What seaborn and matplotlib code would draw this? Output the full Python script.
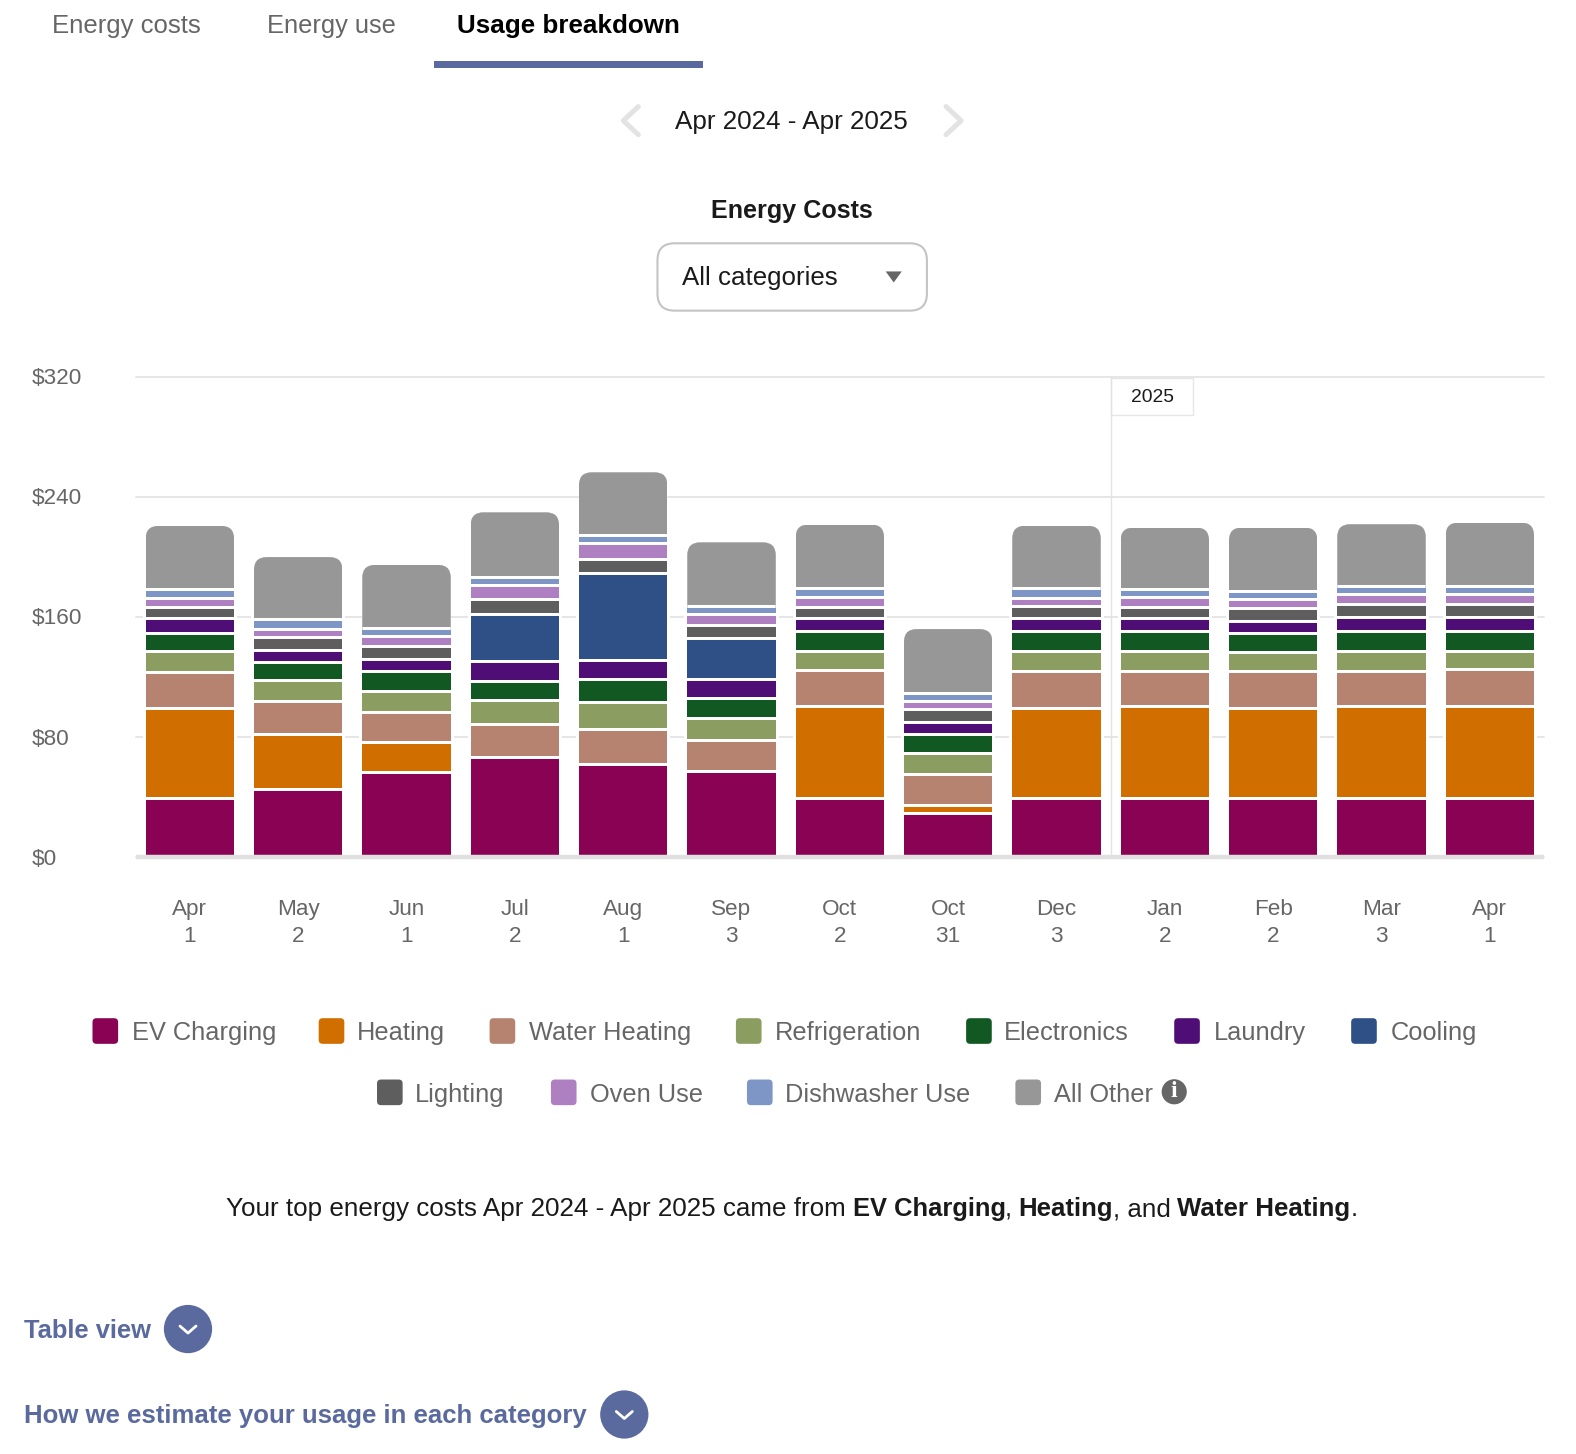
import matplotlib
matplotlib.use("Agg")
import matplotlib.pyplot as plt
import matplotlib.patheffects as pe
from matplotlib.patches import FancyBboxPatch, Circle, Rectangle, Polygon
import numpy as np
import seaborn as sns

W, H = 1576, 1454
VIEW = 0.9947  # page layer coordinates were read from a slightly smaller view

# months on the x axis
months = ["Apr\n1", "May\n2", "Jun\n1", "Jul\n2", "Aug\n1", "Sep\n3", "Oct\n2",
          "Oct\n31", "Dec\n3", "Jan\n2", "Feb\n2", "Mar\n3", "Apr\n1"]

# dollars per segment
ev_charging = [40, 46, 57, 67, 62.5, 58, 40, 30, 40, 40, 40, 40, 40]
heating = [59.6, 36.4, 20.3, 0, 0, 0, 60.7, 5.3, 59.8, 60.9, 59.8, 60.9, 60.9]
water_heating = [24.4, 22.2, 20, 22, 23.3, 20.4, 24.4, 20.2, 24.7, 23.6, 24.7, 23.6, 24.7]
refrigeration = [13.6, 13.8, 14, 16, 18.2, 14.9, 12.9, 14, 13.3, 13.3, 12.4, 13.3, 12.2]
electronics = [12, 11.8, 12.9, 12.7, 14.9, 13.1, 12.7, 12.7, 12.9, 12.9, 12.9, 12.9, 12.9]
laundry = [9.8, 8.4, 8.4, 13, 12.9, 12.4, 8.7, 8.4, 8.9, 8.9, 7.6, 9.8, 9.8]
cooling = [0, 0, 0, 31.8, 57.6, 27.6, 0, 0, 0, 0, 0, 0, 0]
lighting = [7.3, 8.7, 8.4, 9.8, 9.6, 8.4, 7.3, 8.7, 8.4, 7.6, 8.7, 8.7, 8.7]
oven_use = [6.4, 5.3, 6.4, 9.6, 10.9, 7.6, 7.3, 5.3, 5.3, 6.2, 6.2, 6.4, 6.4]
dishwasher = [5.6, 6.4, 5.3, 5.3, 5.3, 5.6, 5.6, 5.3, 6.4, 5.6, 5.6, 5.3, 5.3]
all_other = [41.7, 40.6, 41.7, 42.2, 40.9, 41.4, 41.7, 41.7, 40.8, 40.3, 41.4, 40.6, 41.7]

series = [ev_charging, heating, water_heating, refrigeration, electronics, laundry,
          cooling, lighting, oven_use, dishwasher, all_other]
names = ["EV Charging", "Heating", "Water Heating", "Refrigeration", "Electronics",
         "Laundry", "Cooling", "Lighting", "Oven Use", "Dishwasher Use", "All Other"]
colors = ["#8A0253", "#D16E00", "#B5836F", "#8B9D60", "#115823", "#4E0E75",
          "#2F5087", "#5E5E5E", "#AE80C2", "#7E96C5", "#969796"]
yticks = [0, 80, 160, 240, 320]

ACCENT = "#5A6A9E"
GRAY = "#666666"
DARK = "#1a1a1a"

sns.set_theme(style="white")
plt.rcParams["font.family"] = ["Liberation Sans", "DejaVu Sans"]

fig = plt.figure(figsize=(W / 100, H / 100), dpi=100)

# page layer, y going down
pg = fig.add_axes([0, 0, 1, 1])
pg.set_xlim(0, W * VIEW)
pg.set_ylim(H * VIEW, 0)
pg.axis("off")

# chart
left, right, top, bottom = 135.7, 1544, 376.5, 856.5
ax = fig.add_axes([left / W, 1 - bottom / H, (right - left) / W, (bottom - top) / H])
ax.patch.set_alpha(0)

x = list(range(len(months)))
bottoms = np.zeros(len(months))
for vals, c in zip(series, colors):
    n0 = len(ax.patches)
    sns.barplot(x=x, y=vals, color=c, saturation=1, width=0.816, errorbar=None,
                bottom=bottoms, linewidth=0, ax=ax, zorder=3)
    for p in ax.patches[n0:]:
        if p.get_height() > 0:
            p.set_path_effects([pe.withStroke(linewidth=4.3, foreground="white")])
    bottoms = bottoms + np.array(vals)
top_bars = ax.patches[-len(months):]

ax.set_xlim(-0.5, 12.5)
ax.set_ylim(0, 320)
ax.set_yticks(yticks)
ax.set_yticklabels(["$" + str(v) for v in yticks], fontsize=16.2, color=GRAY, ha="left")
ax.set_xticks(x)
ax.set_xticklabels(months, fontsize=16.2, color=GRAY, linespacing=1.35)
ax.tick_params(axis="y", length=0, pad=75.2)
ax.tick_params(axis="x", length=0, pad=30.7)
ax.grid(axis="y", color="#e6e6e6", lw=1.4, zorder=0)
for g in ax.get_ygridlines():
    g.set_clip_on(False)
ax.grid(axis="x", visible=False)
ax.set_axisbelow(True)
for s in ax.spines.values():
    s.set_visible(False)
ax.axhline(0, color="#e0e0e0", lw=3.2, zorder=4, clip_on=False, solid_capstyle="butt")
ax.axvline(8.5, color="#e3e3e3", lw=1, zorder=1)
ax.set_xlabel("")
ax.set_ylabel("")

# round the top corners of the All Other bars
fig.canvas.draw()
for p in top_bars:
    (x0, y0), (x1, y1) = p.get_window_extent().get_points()
    clip = FancyBboxPatch((x0, y0 - 30), x1 - x0, y1 - y0 + 30,
                          boxstyle="round,pad=0,rounding_size=13",
                          transform=None, figure=fig)
    p.set_clip_path(clip)


def label(px, py, s, size=18.3, color=DARK, weight="normal", ha="left"):
    pg.text(px, py + 1.7, s, fontsize=size, color=color, fontweight=weight, ha=ha, va="center", zorder=6)


# tabs
label(52, 24, "Energy costs", size=18.5, color=GRAY)
label(266, 24, "Energy use", color=GRAY)
label(455, 24, "Usage breakdown", size=18.7, color="black", weight="bold")
pg.add_patch(Rectangle((432, 61), 267, 7, color=ACCENT, lw=0))

# date selector
label(787.5, 120, "Apr 2024 - Apr 2025", size=18.7, ha="center")
pg.plot([635, 620, 635], [106, 120, 134], color="#e3e3e3", lw=3.6, solid_capstyle="round")
pg.plot([941, 956, 941], [106, 120, 134], color="#e3e3e3", lw=3.6, solid_capstyle="round")

# title and dropdown
label(788, 208, "Energy Costs", size=18.1, weight="bold", ha="center")
pg.add_patch(FancyBboxPatch((654, 242), 268, 67, boxstyle="round,pad=0,rounding_size=17",
                            fc="white", ec="#c4c4c4", lw=1.5))
label(678, 275, "All categories", size=18.6)
pg.add_patch(Polygon([[881, 270], [897, 270], [889, 281]], closed=True, color="#666666", lw=0))

# year flag
pg.add_patch(Rectangle((1105, 376), 82, 37, fc="white", ec="#e6e6e6", lw=1, zorder=5))
label(1146, 393.5, "2025", size=13.9, ha="center")

# legend
row1 = [(92, 131), (317, 355), (487, 526), (732, 771), (961, 999), (1168, 1207), (1344, 1383)]
row2 = [(375, 413), (548, 587), (743, 781), (1010, 1048)]
for i, (sx, tx) in enumerate(row1 + row2):
    ly = 1026 if i < 7 else 1087
    pg.add_patch(FancyBboxPatch((sx, ly - 13.2), 25.5, 25.5, boxstyle="round,pad=0,rounding_size=4",
                                fc=colors[i], ec="none"))
    label(tx, ly, names[i], color=GRAY)
pg.add_patch(Circle((1168, 1086), 12.5, color="#666666", lw=0))
pg.text(1168, 1086, "i", fontsize=17, color="white", fontweight="bold", family="Liberation Serif",
        ha="center", va="center")

# summary sentence
parts = [(225, "Your top energy costs Apr 2024 - Apr 2025 came from", "normal", 18.7),
         (848, "EV Charging", "bold", 18.4), (999, ",", "normal", 18.4),
         (1013, "Heating", "bold", 18.5), (1107, ", and", "normal", 18.7),
         (1171, "Water Heating", "bold", 18.6), (1343, ".", "normal", 18.4)]
for px, s, w, fs in parts:
    label(px, 1201, s, size=fs, weight=w)

# links at the bottom
for px, py, s, cx, fs in [(24, 1322, "Table view", 187, 18.4),
                          (24, 1407, "How we estimate your usage in each category", 621, 18.55)]:
    label(px, py, s, size=fs, color=ACCENT, weight="bold")
    pg.add_patch(Circle((cx, py), 24, color=ACCENT, lw=0))
    pg.plot([cx - 8, cx, cx + 8], [py - 3, py + 4, py - 3], color="white", lw=2,
            solid_capstyle="round")

fig.savefig("out.png", dpi=100)
